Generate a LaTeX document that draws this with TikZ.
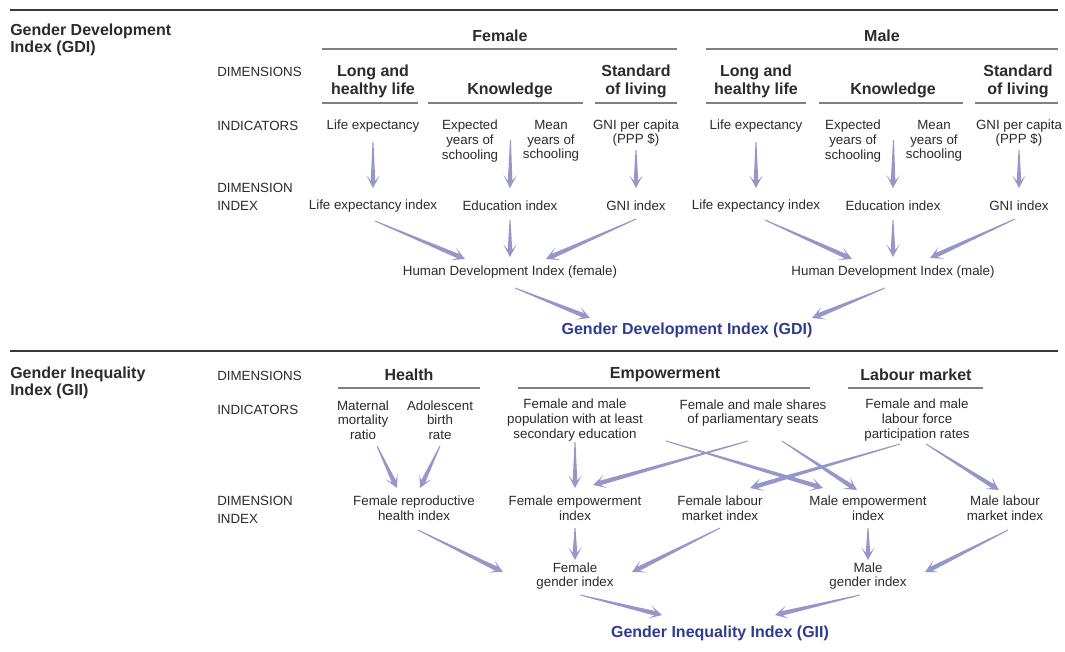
\documentclass[tikz,border=0pt]{standalone}
\usepackage{fontspec}
\setmainfont{Liberation Sans}
\usetikzlibrary{calc}
\definecolor{txt}{HTML}{2B2B2B}
\definecolor{arr}{HTML}{9597C8}
\definecolor{ttl}{HTML}{2E3C8C}
\definecolor{rulec}{HTML}{3A3A3A}
\definecolor{ulc}{HTML}{808080}
\tikzset{
 t/.style={font=\fontsize{10}{11}\selectfont, text=txt, align=center, inner sep=0pt},
 side/.style={font=\fontsize{10}{13.5}\selectfont, text=txt, align=left, inner sep=0pt, anchor=west},
 hd/.style={font=\bfseries\fontsize{12}{13.5}\selectfont, text=txt, align=center, inner sep=0pt},
 big/.style={font=\bfseries\fontsize{12}{14}\selectfont, text=ttl, inner sep=0pt},
 sec/.style={font=\bfseries\fontsize{12}{13}\selectfont, text=txt, align=left, inner sep=0pt, anchor=west},
 rulel/.style={draw=rulec, line width=1.7pt},
 ul/.style={draw=ulc, line width=0.8pt},
}
\newcommand\tarrow[2]{%
 \fill[arr] let \p1=#1, \p2=#2, \n1={atan2(\y2-\y1,\x2-\x1)} in
  ($(\p1)+(\n1+90:0.35pt)$) --
  ($(\p2)+(\n1+180:5.5pt)+(\n1+90:1.7pt)$) --
  ($(\p2)+(\n1+180:9.5pt)+(\n1+90:5pt)$) -- (\p2) --
  ($(\p2)+(\n1+180:9.5pt)+(\n1-90:5pt)$) --
  ($(\p2)+(\n1+180:5.5pt)+(\n1-90:1.7pt)$) --
  ($(\p1)+(\n1-90:0.35pt)$) -- cycle;}
\begin{document}
\begin{tikzpicture}[x=0.75pt,y=-0.75pt]
\fill[white] (0,0) rectangle (1065,651);
\useasboundingbox (0,0) rectangle (1065,651);
% ---------------- GDI ----------------
\draw[rulel] (10,10) -- (1058,10);
\node[sec] (gdititle) at (10,40) {Gender Development\\Index (GDI)};
\node[hd] (female) at (500,36) {Female};
\node[hd] (male) at (882,36) {Male};
\draw[ul] (322,49) -- (677,49);
\draw[ul] (706,49) -- (1058,49);
\node[side] (dim1) at (217,72) {DIMENSIONS};
\node[hd] (lhlf) at (373,81) {Long and\\healthy life};
\node[hd] (knf) at (510,90) {Knowledge};
\node[hd] (slf) at (636,81) {Standard\\of living};
\node[hd] (lhlm) at (756,81) {Long and\\healthy life};
\node[hd] (knm) at (893,90) {Knowledge};
\node[hd] (slm) at (1018,81) {Standard\\of living};
\draw[ul] (322,103) -- (418,103);
\draw[ul] (428,103) -- (583,103);
\draw[ul] (595,103) -- (677,103);
\draw[ul] (706,103) -- (806,103);
\draw[ul] (819,103) -- (963,103);
\draw[ul] (975,103) -- (1058,103);
\node[side] (ind1) at (217,126) {INDICATORS};
\node[t] (lexf) at (373,126) {Life expectancy};
\node[t] (expf) at (470,141) {Expected\\years of\\schooling};
\node[t] (meanf) at (551,141) {Mean\\years of\\schooling};
\node[t] (gnif) at (636,133) {GNI per capita\\(PPP \$)};
\node[t] (lexm) at (756,126) {Life expectancy};
\node[t] (expm) at (853,141) {Expected\\years of\\schooling};
\node[t] (meanm) at (934,141) {Mean\\years of\\schooling};
\node[t] (gnim) at (1019,133) {GNI per capita\\(PPP \$)};
\node[side] (di1) at (217,197) {DIMENSION\\INDEX};
\node[t] (leif) at (373,206) {Life expectancy index};
\node[t] (edf) at (510,206) {Education index};
\node[t] (gniif) at (636,206) {GNI index};
\node[t] (leim) at (756,206) {Life expectancy index};
\node[t] (edm) at (893,206) {Education index};
\node[t] (gniim) at (1019,206) {GNI index};
\node[t] (hdif) at (510,272) {Human Development Index (female)};
\node[t] (hdim) at (893,272) {Human Development Index (male)};
\node[big] (gdi) at (687,330) {Gender Development Index (GDI)};
% arrows GDI
\tarrow{($(lexf)+(0,16)$)}{($(leif)+(0,-18)$)}
\tarrow{($(expf)!0.5!(meanf)+(0,-1)$)}{($(edf)+(0,-18)$)}
\tarrow{($(gnif)+(0,17)$)}{($(gniif)+(0,-18)$)}
\tarrow{($(lexm)+(0,16)$)}{($(leim)+(0,-18)$)}
\tarrow{($(expm)!0.5!(meanm)+(0,-1)$)}{($(edm)+(0,-18)$)}
\tarrow{($(gnim)+(0,17)$)}{($(gniim)+(0,-18)$)}
\tarrow{($(leif)+(2,15)$)}{($(hdif)+(-45,-13)$)}
\tarrow{($(edf)+(0,14)$)}{($(hdif)+(0,-15)$)}
\tarrow{($(gniif)+(0,13)$)}{($(hdif)+(36,-13)$)}
\tarrow{($(leim)+(9,14)$)}{($(hdim)+(-41,-13)$)}
\tarrow{($(edm)+(0,14)$)}{($(hdim)+(0,-15)$)}
\tarrow{($(gniim)+(-4,13)$)}{($(hdim)+(37,-14)$)}
\tarrow{($(hdif)+(5,16)$)}{($(gdi)+(-97,-12)$)}
\tarrow{($(hdim)+(-8,16)$)}{($(gdi)+(125,-12)$)}
% ---------------- GII ----------------
\draw[rulel] (10,351) -- (1058,351);
\node[sec] (giititle) at (10,383) {Gender Inequality\\Index (GII)};
\node[side] (dim2) at (217,376) {DIMENSIONS};
\node[hd] (health) at (409,375) {Health};
\node[hd] (emp) at (665,375) {Empowerment};
\node[hd] (lab) at (916,375) {Labour market};
\draw[ul] (338,388) -- (480,388);
\draw[ul] (518,388) -- (810,388);
\draw[ul] (848,388) -- (983,388);
\node[side] (ind2) at (217,410) {INDICATORS};
\node[t] (mmr) at (363,420) {Maternal\\mortality\\ratio};
\node[t] (abr) at (440,420) {Adolescent\\birth\\rate};
\node[t] (pop) at (575,420) {Female and male\\population with at least\\secondary education};
\node[t] (par) at (753,413) {Female and male shares\\of parliamentary seats};
\node[t] (lfp) at (917,420) {Female and male\\labour force\\participation rates};
\node[side] (di2) at (217,510) {DIMENSION\\INDEX};
\node[t] (frhi) at (414,508) {Female reproductive\\health index};
\node[t] (fei) at (575,508) {Female empowerment\\index};
\node[t] (flmi) at (720,508) {Female labour\\market index};
\node[t] (mei) at (868,508) {Male empowerment\\index};
\node[t] (mlmi) at (1005,508) {Male labour\\market index};
\node[t] (fgi) at (575,576) {Female\\gender index};
\node[t] (mgi) at (868,576) {Male\\gender index};
\node[big] (gii) at (720,633) {Gender Inequality Index (GII)};
% arrows GII
\tarrow{($(mmr)+(14,26)$)}{($(frhi)+(-17,-20)$)}
\tarrow{($(abr)+(0,26)$)}{($(frhi)+(6,-20)$)}
\tarrow{($(pop)+(0,22)$)}{($(fei)+(0,-20)$)}
\tarrow{($(pop)+(91,21)$)}{($(mei)+(-45,-20)$)}
\tarrow{($(par)+(-5,28)$)}{($(fei)+(18,-23)$)}
\tarrow{($(par)+(29,28)$)}{($(mei)+(-11,-18)$)}
\tarrow{($(lfp)+(-17,24)$)}{($(flmi)+(30,-20)$)}
\tarrow{($(lfp)+(9,24)$)}{($(mlmi)+(-6,-18)$)}
\tarrow{($(frhi)+(4,22)$)}{($(fgi)+(-72,-4)$)}
\tarrow{($(fei)+(0,20)$)}{($(fgi)+(0,-16)$)}
\tarrow{($(flmi)+(0,20)$)}{($(fgi)+(57,-4)$)}
\tarrow{($(mei)+(0,20)$)}{($(mgi)+(0,-16)$)}
\tarrow{($(mlmi)+(3,22)$)}{($(mgi)+(57,-4)$)}
\tarrow{($(fgi)+(5,19)$)}{($(gii)+(-58,-18)$)}
\tarrow{($(mgi)+(-8,19)$)}{($(gii)+(55,-18)$)}
\end{tikzpicture}
\end{document}
